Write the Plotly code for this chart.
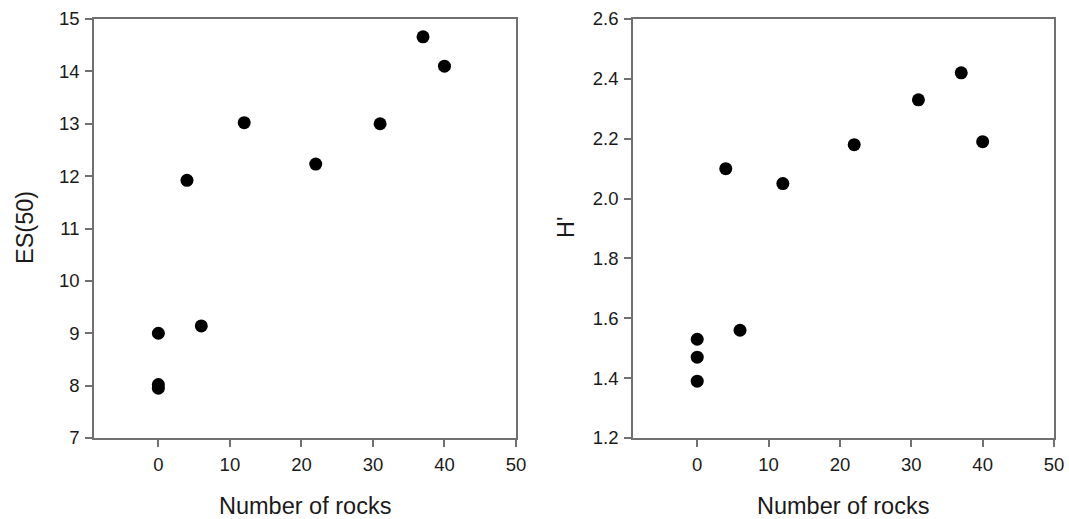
import plotly.graph_objects as go

# Data
rocks_es = [0, 0, 0, 4, 6, 12, 22, 31, 37, 40]
es50 = [9.0, 8.02, 7.95, 11.92, 9.14, 13.02, 12.23, 13.0, 14.66, 14.1]

rocks_h = [0, 0, 0, 4, 6, 12, 22, 31, 37, 40]
h_prime = [1.53, 1.47, 1.39, 2.10, 1.56, 2.05, 2.18, 2.33, 2.42, 2.19]

x_ticks = [0, 10, 20, 30, 40, 50]
es_ticks = [7, 8, 9, 10, 11, 12, 13, 14, 15]
h_ticks = [1.2, 1.4, 1.6, 1.8, 2.0, 2.2, 2.4, 2.6]
h_ticklabels = ["1.2", "1.4", "1.6", "1.8", "2.0", "2.2", "2.4", "2.6"]

W, H = 1069, 519
FONT = "Arial, Liberation Sans, sans-serif"

fig = go.Figure()
fig.add_trace(go.Scatter(x=rocks_es, y=es50, mode="markers",
                         marker=dict(color="black", size=13, line=dict(width=0)),
                         xaxis="x", yaxis="y", showlegend=False))
fig.add_trace(go.Scatter(x=rocks_h, y=h_prime, mode="markers",
                         marker=dict(color="black", size=13, line=dict(width=0)),
                         xaxis="x2", yaxis="y2", showlegend=False))

ydom = [1 - 438 / H, 1 - 19 / H]
axis_common = dict(showgrid=False, zeroline=False, showline=True, mirror=True,
                   automargin=False,
                   linecolor="#707070", linewidth=1.5, ticks="outside", ticklen=7,
                   tickwidth=1.5, tickcolor="#707070",
                   tickfont=dict(family=FONT, size=18.5, color="#1a1a1a"))

fig.update_layout(
    width=W, height=H,
    margin=dict(l=0, r=0, t=0, b=0, autoexpand=False),
    paper_bgcolor="white", plot_bgcolor="white",
    xaxis=dict(domain=[94 / W, 516 / W], range=[-9, 50], tickvals=x_ticks,
               anchor="y", ticklabelstandoff=2, **axis_common),
    yaxis=dict(domain=ydom, range=[7, 15], tickvals=es_ticks, anchor="x",
               ticklabelstandoff=2, **axis_common),
    xaxis2=dict(domain=[633 / W, 1054 / W], range=[-9, 50], tickvals=x_ticks,
                anchor="y2", ticklabelstandoff=2, **axis_common),
    yaxis2=dict(domain=ydom, range=[1.2, 2.6], tickvals=h_ticks, ticktext=h_ticklabels,
                anchor="x2", ticklabelstandoff=2, **axis_common),
    annotations=[
        dict(text="Number of rocks", x=305 / W, y=1 - 506 / H, xref="paper", yref="paper",
             xanchor="center", yanchor="middle",
             showarrow=False, font=dict(family=FONT, size=23.5, color="#1a1a1a")),
        dict(text="Number of rocks", x=843 / W, y=1 - 506 / H, xref="paper", yref="paper",
             xanchor="center", yanchor="middle",
             showarrow=False, font=dict(family=FONT, size=23.5, color="#1a1a1a")),
        dict(text="ES(50)", x=25 / W, y=1 - 228 / H, xref="paper", yref="paper",
             xanchor="center", yanchor="middle",
             showarrow=False, textangle=-90, font=dict(family=FONT, size=23.5, color="#1a1a1a")),
        dict(text="H'", x=566 / W, y=1 - 228 / H, xref="paper", yref="paper",
             xanchor="center", yanchor="middle",
             showarrow=False, textangle=-90, font=dict(family=FONT, size=23.5, color="#1a1a1a")),
    ],
)

fig.write_html("out.html")
